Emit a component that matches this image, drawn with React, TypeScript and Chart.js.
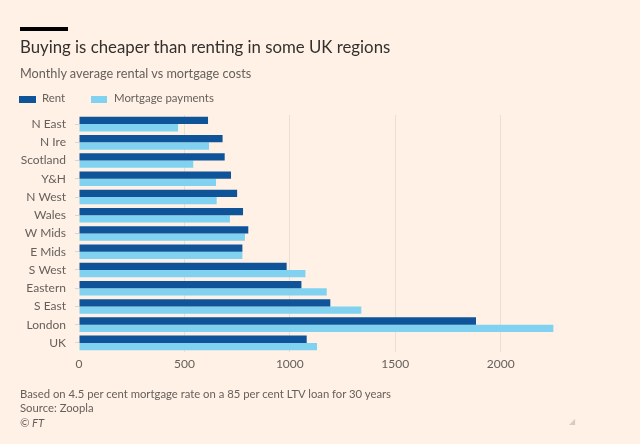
import React, { useEffect, useRef } from "react";
import { Chart, registerables } from "chart.js";

Chart.register(...registerables);

const regions = ["N East", "N Ire", "Scotland", "Y&H", "N West", "Wales", "W Mids", "E Mids", "S West", "Eastern", "S East", "London", "UK"];
const rent = [612, 681, 691, 721, 750, 778, 803, 775, 985, 1055, 1192, 1883, 1080];
const mortgage = [470, 617, 542, 650, 653, 716, 787, 775, 1074, 1175, 1339, 2250, 1129];
const xTicks = [0, 500, 1000, 1500, 2000];

const BG = "#FFF1E5";
const RENT = "#0F5499";
const MORT = "#80D2F0";
const FONT = "Lato, 'Open Sans', sans-serif";

export default function App() {
  const ref = useRef<HTMLCanvasElement>(null);
  useEffect(() => {
    document.body.style.margin = "0";
    const chart = new Chart(ref.current!, {
      type: "bar",
      data: {
        labels: regions,
        datasets: [
          { label: "Rent", data: rent, backgroundColor: RENT, categoryPercentage: 0.8, barPercentage: 1 },
          { label: "Mortgage payments", data: mortgage, backgroundColor: MORT, categoryPercentage: 0.8, barPercentage: 1 },
        ],
      },
      options: {
        indexAxis: "y",
        animation: false,
        responsive: false,
        maintainAspectRatio: false,
        layout: { padding: { top: 115, bottom: 72, left: 0, right: 55 } },
        plugins: { legend: { display: false }, tooltip: { enabled: false } },
        scales: {
          x: {
            min: 0,
            max: 2400,
            afterBuildTicks: (s: any) => { s.ticks = xTicks.map((v) => ({ value: v })); },
            afterFit: (s: any) => { s.height = 20; },
            border: { display: false },
            grid: { color: (c: any) => (c.tick && c.tick.value === 0 ? "rgba(0,0,0,0)" : "#EADFD5"), drawTicks: false, lineWidth: 1 },
            ticks: { padding: 5, color: "#66605C", font: { family: FONT, size: 12 }, callback: (v: any) => String(v) },
          },
          y: {
            afterFit: (s: any) => { s.width = 79; },
            border: { display: false },
            grid: { drawOnChartArea: false, offset: false, tickLength: 4, color: "#E0D3C8" },
            ticks: { padding: 9, color: "#66605C", font: { family: FONT, size: 12 } },
          },
        },
      },
    });
    return () => chart.destroy();
  }, []);

  const txt = (top: number, left: number, size: number, color: string, extra: any = {}) => ({
    position: "absolute" as const,
    top,
    left,
    fontSize: size,
    lineHeight: 1,
    color,
    fontFamily: FONT,
    whiteSpace: "nowrap" as const,
    ...extra,
  });

  return (
    <div style={{ position: "absolute", left: 0, top: 0, width: 640, height: 444, background: BG, overflow: "hidden" }}>
      <canvas ref={ref} width={640} height={444} style={{ position: "absolute", left: 0, top: 0, width: 640, height: 444 }} />
      <div style={{ position: "absolute", left: 20, top: 27, width: 48, height: 4, background: "#000" }} />
      <div style={txt(39, 20, 16.8, "#33302E")}>Buying is cheaper than renting in some UK regions</div>
      <div style={txt(66.5, 20, 12.7, "#66605C")}>Monthly average rental vs mortgage costs</div>
      <div style={{ position: "absolute", left: 19, top: 96, width: 17, height: 7, background: RENT }} />
      <div style={txt(92.1, 42, 11.4, "#66605C")}>Rent</div>
      <div style={{ position: "absolute", left: 91, top: 96, width: 16, height: 7, background: MORT }} />
      <div style={txt(92.1, 114, 11.4, "#66605C")}>Mortgage payments</div>
      <div style={txt(388.3, 20, 11.3, "#66605C")}>Based on 4.5 per cent mortgage rate on a 85 per cent LTV loan for 30 years</div>
      <div style={txt(402.3, 20, 11.3, "#66605C")}>Source: Zoopla</div>
      <div style={txt(416.8, 20, 11.3, "#66605C", { fontStyle: "italic" })}>© FT</div>
      <div style={txt(417, 569, 8, "#D8CCC2")}>◢</div>
    </div>
  );
}
